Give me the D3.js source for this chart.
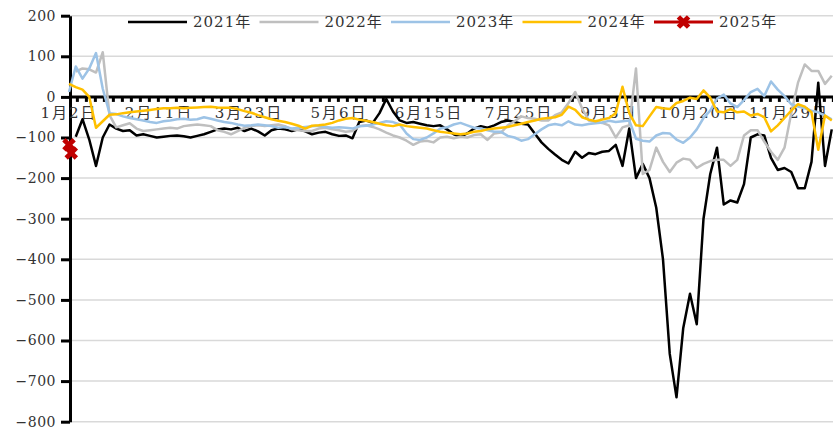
<!DOCTYPE html>
<html><head><meta charset="utf-8">
<script src="https://cdn.jsdelivr.net/npm/d3@7"></script>
<style>
body{margin:0;background:#fff}
svg{display:block}
text{font-family:"DejaVu Serif","Noto Sans CJK SC",serif;fill:#333}
</style>
</head><body>
<svg id="chart" width="833" height="429"></svg>
<script>
// ---------------- data ----------------
const xTickLabels = ["1月2日","2月11日","3月23日","5月6日","6月15日","7月25日","9月3日","10月20日","11月29日"];
const labelEvery = 40;        // categories between date labels
const tickEvery = 4;          // categories between tick marks
const visibleCategories = 340;
const yTicks = [200,100,0,-100,-200,-300,-400,-500,-600,-700,-800];
const seriesNames = ["2021年","2022年","2023年","2024年","2025年"];
const sampleStep = 3;         // values below are read every 3 categories

const v2021 = [null,-98,-55,-105,-170,-100,-68,-78,-84,-82,
 -95,-92,-96,-100,-98,-96,-95,-97,-100,-96,
 -92,-86,-80,-78,-80,-76,-84,-78,-85,-95,
 -82,-78,-80,-84,-80,-85,-92,-88,-86,-92,
 -96,-95,-102,-62,-58,-64,-40,-5,-36,-58,
 -64,-62,-66,-70,-72,-70,-80,-92,-98,-90,
 -78,-72,-76,-70,-62,-58,-62,-66,-68,-90,
 -112,-128,-142,-155,-164,-135,-150,-138,-141,-135,
 -133,-118,-170,-78,-200,-165,-200,-273,-400,-633,
 -740,-569,-485,-560,-300,-190,-125,-265,-255,-260,
 -215,-100,-92,-95,-150,-180,-175,-185,-225,-225,
 -160,35,-170,-80];

const v2022 = [null,62,70,68,60,110,-45,-75,-70,-65,
 -78,-84,-82,-80,-78,-76,-78,-72,-70,-68,
 -70,-72,-82,-86,-92,-84,-76,-72,-70,-72,
 -70,-68,-72,-80,-82,-84,-84,-78,-76,-80,
 -82,-86,-84,-72,-70,-74,-80,-88,-95,-100,
 -108,-118,-110,-108,-112,-100,-98,-102,-98,-100,
 -94,-92,-106,-90,-88,-70,-60,-48,-52,-54,
 -58,-58,-45,-38,-15,12,-28,-58,-62,-64,
 -70,-100,-75,-70,70,-190,-180,-125,-160,-185,
 -162,-152,-155,-175,-165,-158,-155,-155,-170,-155,
 -95,-82,-82,-110,-135,-155,-125,-40,35,80,
 64,64,32,52];

const v2023 = [12,75,45,70,108,20,-40,-42,-48,-52,
 -55,-58,-62,-64,-60,-58,-55,-54,-56,-55,
 -50,-54,-58,-62,-64,-68,-71,-70,-68,-70,
 -72,-76,-74,-78,-76,-74,-72,-71,-74,-76,
 -75,-76,-78,-72,-71,-68,-64,-60,-62,-68,
 -90,-104,-106,-100,-90,-78,-75,-68,-64,-70,
 -76,-78,-82,-86,-86,-96,-100,-108,-104,-92,
 -80,-70,-67,-70,-60,-68,-70,-67,-65,-63,
 -59,-62,-60,-58,-103,-108,-110,-95,-89,-90,
 -105,-113,-100,-80,-52,-34,-4,6,-16,-25,
 -8,12,20,2,38,18,2,-18,-24,-28,
 -34,-38,-46,-55];

const v2024 = [32,24,18,0,-76,-60,-44,-43,-40,-38,
 -36,-34,-32,-30,-28,-28,-27,-28,-27,-26,
 -25,-24,-26,-27,-27,-30,-35,-39,-45,-50,
 -55,-59,-62,-66,-71,-78,-71,-70,-68,-64,
 -58,-54,-52,-56,-59,-62,-66,-70,-72,-68,
 -72,-74,-76,-78,-82,-86,-88,-90,-92,-90,
 -86,-84,-80,-78,-76,-74,-70,-66,-62,-58,
 -54,-52,-50,-44,-24,-32,-50,-56,-60,-56,
 -52,-40,25,-40,-70,-72,-48,-25,-28,-30,
 -15,-10,-2,-5,16,-2,-36,-38,-30,-38,
 -36,-46,-42,-50,-85,-70,-52,-34,-18,-24,
 -38,-130,-46,-58];

const v2025 = [-118,-138]; // daily values (step 1)

const colors = ["#000000","#BFBFBF","#9DC3E6","#FFC000","#C00000"];

// ---------------- chart ----------------
const svg = d3.select("#chart");
const x = d3.scaleLinear().domain([0, visibleCategories]).range([69, 69 + visibleCategories * 2.25]);
const y = d3.scaleLinear().domain([-800, 200]).range([421.7, 15.7]);
const plotLeft = 70, plotRight = 833;

// gridlines
svg.append("g").selectAll("line").data(yTicks.filter(d => d !== 0)).join("line")
  .attr("x1", plotLeft).attr("x2", plotRight)
  .attr("y1", d => y(d)).attr("y2", d => y(d))
  .attr("stroke", "#D9D9D9").attr("stroke-width", 1.5);

// y axis
const yAxis = svg.append("g").attr("transform", `translate(${plotLeft},0)`)
  .call(d3.axisLeft(y).tickValues(yTicks).tickSize(9).tickSizeOuter(0).tickPadding(5));
yAxis.select(".domain").attr("stroke", "#000").attr("stroke-width", 3);
yAxis.selectAll(".tick line").attr("stroke", "#000").attr("stroke-width", 3);
yAxis.selectAll(".tick text").style("font-size", "14px").style("letter-spacing", "0.5px")
  .attr("fill", "#333").attr("font-family", null);

// x axis at zero with dense tick marks
const tickIdx = d3.range(0, visibleCategories + 1, tickEvery).map(d => d - 0.5).filter(d => x(d) > plotLeft);
const xAxis = svg.append("g").attr("transform", `translate(0,${y(0)})`)
  .call(d3.axisBottom(x).tickValues(tickIdx).tickSize(5).tickSizeOuter(0).tickFormat(""));
xAxis.select(".domain").attr("d", `M${plotLeft},0H${plotRight}`).attr("stroke", "#000").attr("stroke-width", 3);
xAxis.selectAll(".tick line").attr("stroke", "#000").attr("stroke-width", 3);

// date labels
svg.append("g").selectAll("text").data(xTickLabels).join("text")
  .attr("x", (d, i) => x(i * labelEvery))
  .attr("y", y(0) + 21)
  .attr("text-anchor", "middle")
  .style("font-size", "15px").style("letter-spacing", "2px")
  .text(d => d);

// series
const seriesData = [v2021, v2022, v2023, v2024].map(arr => arr.map((v, k) => ({i: k * sampleStep, v})));
const line = d3.line().defined(d => d.v !== null).x(d => x(d.i)).y(d => y(d.v));
svg.append("g").selectAll("path").data(seriesData).join("path")
  .attr("d", line)
  .attr("fill", "none")
  .attr("stroke", (d, i) => colors[i])
  .attr("stroke-width", 2.5)
  .attr("stroke-linejoin", "round");

const d2025 = v2025.map((v, i) => ({i, v}));
svg.append("path").datum(d2025).attr("d", line)
  .attr("fill", "none").attr("stroke", colors[4]).attr("stroke-width", 3);
const marker = d3.symbol(d3.symbolCross, 115);
svg.append("g").selectAll("path").data(d2025).join("path")
  .attr("d", marker)
  .attr("transform", d => `translate(${x(d.i)},${y(d.v)}) rotate(45)`)
  .attr("fill", colors[4]);

// legend
const legend = svg.append("g").selectAll("g").data(seriesNames).join("g")
  .attr("transform", (d, i) => `translate(${128 + i * 131.5},22)`);
legend.append("line").attr("x1", 0).attr("x2", 59).attr("y1", 0).attr("y2", 0)
  .attr("stroke", (d, i) => colors[i]).attr("stroke-width", (d, i) => i === 4 ? 3 : 2.5);
legend.filter((d, i) => i === 4).append("path")
  .attr("d", marker).attr("transform", "translate(29.5,0) rotate(45)").attr("fill", colors[4]);
legend.append("text").attr("x", 65).attr("y", 0).attr("dy", "0.35em")
  .style("font-size", "15px").style("letter-spacing", "1px")
  .text(d => d);
</script>
</body></html>
